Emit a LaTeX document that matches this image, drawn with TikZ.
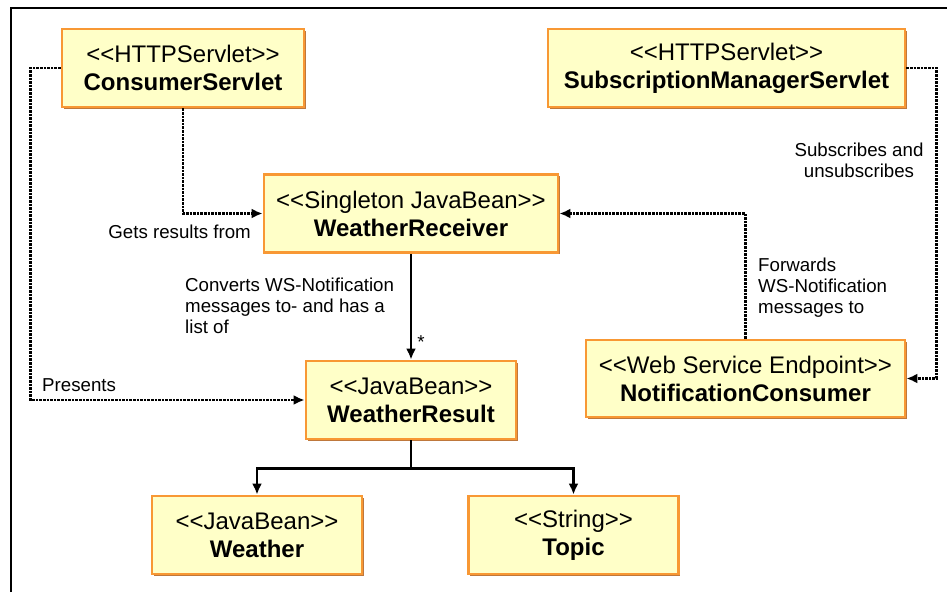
\documentclass[tikz,border=0pt]{standalone}
\usepackage{fontspec}
\setmainfont{Liberation Sans}
\usetikzlibrary{arrows.meta, positioning, shadows, calc}
\definecolor{beanfill}{RGB}{255,255,200}
\definecolor{beanedge}{RGB}{248,152,52}
\definecolor{beanshade}{RGB}{190,120,60}

\begin{document}
\begin{tikzpicture}[
  x=1pt, y=-1pt,
  bean/.style={draw=beanedge, fill=beanfill, line width=2.8pt,
               minimum height=78pt, inner sep=0pt, align=center,
               font=\fontsize{24}{28}\selectfont,
               drop shadow={shadow xshift=1.8pt, shadow yshift=-1.8pt,
                            fill=beanshade, opacity=1}},
  link/.style={densely dotted, line width=2.6pt, -{Latex[length=11pt,width=10pt]}},
  owns/.style={line width=2.6pt, -{Latex[length=11pt,width=10pt]}},
  note/.style={font=\fontsize{18.7}{21}\selectfont, align=left, inner sep=0pt},
]
\useasboundingbox (0,0) rectangle (947,592);

%% Frame
\draw[line width=1.3pt] (11,592) -- (11,8) -- (947,8);

%% Classes
\node[bean, minimum width=242pt] (consumer) at (183,68)
  {<{}<HTTPServlet>{}>\\\textbf{ConsumerServlet}};
\node[bean, minimum width=357pt] (submgr) at (726.5,68)
  {<{}<HTTPServlet>{}>\\\textbf{SubscriptionManagerServlet}};
\node[bean, minimum width=294pt] (receiver) at (411,213.5)
  {<{}<Singleton JavaBean>{}>\\\textbf{WeatherReceiver}};
\node[bean, minimum width=210pt] (result) at (411,400)
  {<{}<JavaBean>{}>\\\textbf{WeatherResult}};
\node[bean, minimum width=319pt, minimum height=77pt] (notif) at (745.5,378.5)
  {<{}<Web Service Endpoint>{}>\\\textbf{NotificationConsumer}};
\node[bean, minimum width=210pt] (weather) at (257,535)
  {<{}<JavaBean>{}>\\\textbf{Weather}};
\node[bean, minimum width=210pt] (topic) at (573.5,535)
  {<{}<String>{}>\\\textbf{Topic}};

%% Dotted dependencies
\draw[link] (consumer.south) |- (receiver.west);
\draw[link] (consumer.west) -- ++(-30,0) |- (result.west);
\draw[link] (submgr.east) -- ++(30,0) |- (notif.east);
\draw[link] (notif.north) |- (receiver.east);

%% Solid associations
\coordinate (fork) at ($(result.south)+(0,28)$);
\draw[owns] (receiver.south) -- (result.north);
\draw[owns] (result.south) -- (fork) -| (weather.north);
\draw[owns] (fork) -| (topic.north);

%% Labels
\node[note, anchor=base east] (getslbl) at (251,238) {Gets results from};
\node[note, anchor=base west] (presentslbl) at (42,391) {Presents};
\node[note, anchor=north, align=center] (sublbl) at (859,143) {Subscribes and\\unsubscribes};
\node[note, anchor=north west] (fwdlbl) at (758,258) {Forwards\\WS-Notification\\messages to};
\node[note, anchor=north west] (convlbl) at (185,278) {Converts WS-Notification\\messages to- and has a\\list of};
\node[note] (multlbl) at (421,342) {*};

\end{tikzpicture}
\end{document}
